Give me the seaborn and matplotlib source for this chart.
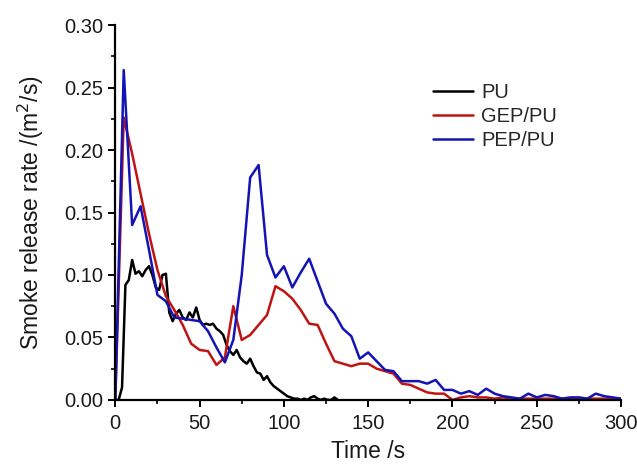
import numpy as np
import seaborn as sns
import matplotlib.pyplot as plt
from matplotlib.ticker import MultipleLocator

# PU, sampled every 2 s (curve stops around 132 s)
t_pu = np.arange(0, 134, 2)
srr_pu = [0.0, 0.0, 0.010, 0.092, 0.096, 0.112, 0.101, 0.103, 0.099, 0.104,
          0.107, 0.100, 0.090, 0.088, 0.100, 0.101, 0.070, 0.063, 0.069, 0.072,
          0.066, 0.064, 0.070, 0.066, 0.074, 0.064, 0.060, 0.061, 0.060, 0.061,
          0.057, 0.055, 0.052, 0.044, 0.039, 0.036, 0.040, 0.034, 0.031, 0.029,
          0.033, 0.027, 0.022, 0.021, 0.016, 0.019, 0.014, 0.011, 0.009, 0.007,
          0.005, 0.003, 0.002, 0.001, 0.001, 0.0, 0.001, 0.0, 0.002, 0.003,
          0.001, 0.0, 0.001, 0.0, 0.0, 0.002, 0.0]

# GEP/PU and PEP/PU, sampled every 5 s
t_5s = np.arange(0, 305, 5)
srr_gep = [0.0, 0.226, 0.197, 0.165, 0.133, 0.104, 0.083, 0.072, 0.060, 0.045,
           0.040, 0.039, 0.028, 0.034, 0.075, 0.048, 0.052, 0.060, 0.068, 0.091,
           0.087, 0.081, 0.072, 0.061, 0.060, 0.045, 0.031, 0.029, 0.027, 0.029,
           0.029, 0.025, 0.023, 0.021, 0.013, 0.012, 0.009, 0.006, 0.005, 0.005,
           0.0, 0.002, 0.003, 0.002, 0.002, 0.001, 0.002, 0.001, 0.001, 0.001,
           0.001, 0.001, 0.001, 0.001, 0.001, 0.001, 0.001, 0.001, 0.001, 0.001,
           0.001]
srr_pep = [0.0, 0.264, 0.140, 0.155, 0.120, 0.084, 0.079, 0.066, 0.065, 0.064,
           0.063, 0.055, 0.042, 0.030, 0.048, 0.100, 0.178, 0.188, 0.116, 0.098,
           0.107, 0.090, 0.102, 0.113, 0.095, 0.077, 0.069, 0.057, 0.051, 0.033,
           0.038, 0.031, 0.024, 0.023, 0.015, 0.015, 0.015, 0.013, 0.016, 0.008,
           0.008, 0.005, 0.007, 0.004, 0.009, 0.005, 0.003, 0.002, 0.001, 0.005,
           0.002, 0.004, 0.003, 0.001, 0.002, 0.002, 0.001, 0.005, 0.003, 0.002,
           0.001]

sns.set_style("ticks")
plt.rcParams['font.family'] = ['Liberation Sans', 'DejaVu Sans']

fig, ax = plt.subplots(figsize=(6.37, 4.65), dpi=100)
fig.subplots_adjust(left=0.181, right=0.975, top=0.946, bottom=0.140)

sns.lineplot(x=t_pu, y=srr_pu, color='black', lw=1.8, label='PU', ax=ax)
sns.lineplot(x=t_5s, y=srr_gep, color='#c01414', lw=1.8, label='GEP/PU', ax=ax)
sns.lineplot(x=t_5s, y=srr_pep, color='#1414b4', lw=1.8, label='PEP/PU', ax=ax)

ax.set_xlim(0, 300)
ax.set_ylim(0, 0.30)
ax.xaxis.set_major_locator(MultipleLocator(50))
ax.xaxis.set_minor_locator(MultipleLocator(25))
ax.yaxis.set_major_locator(MultipleLocator(0.05))
ax.yaxis.set_minor_locator(MultipleLocator(0.025))
ax.yaxis.set_major_formatter(plt.FormatStrFormatter('%.2f'))
ax.tick_params(which='major', direction='out', length=5, width=1.4, labelsize=14.5,
               colors='black', labelcolor='#1a1a1a')
ax.tick_params(axis='x', which='major', pad=5)
ax.tick_params(which='minor', direction='out', length=3, width=1.4)
for s in ['left', 'bottom']:
    ax.spines[s].set_linewidth(1.6)
    ax.spines[s].set_color('black')
sns.despine(ax=ax)

ax.set_xlabel('Time /s', fontsize=16.5, color='#1a1a1a', labelpad=5)
ax.set_ylabel('Smoke release rate /(m$^2$/s)', fontsize=16.5, color='#1a1a1a', labelpad=13)

ax.legend(loc='upper left', bbox_to_anchor=(0.592, 0.895), frameon=False,
          fontsize=14.5, handlelength=2.0, handletextpad=0.4, labelspacing=0.25)

plt.savefig('out.png', dpi=100)
